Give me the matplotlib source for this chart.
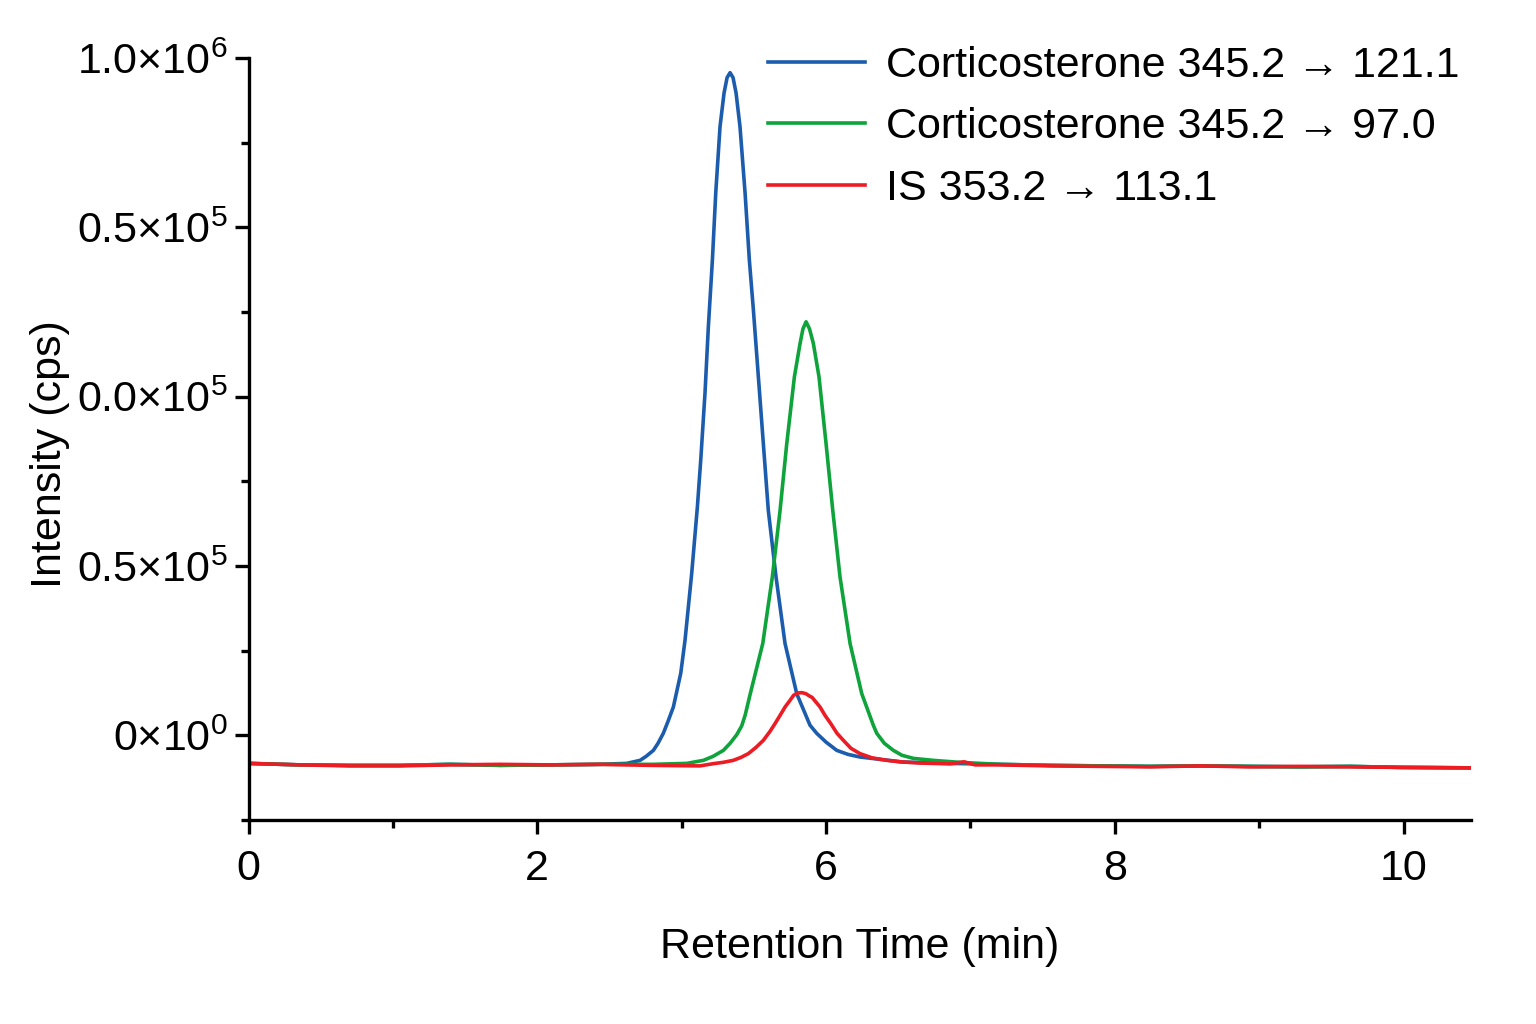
import matplotlib
matplotlib.use("Agg")
import numpy as np
from matplotlib import pyplot as plt
from matplotlib.ticker import FixedLocator

font = "Liberation Sans"
plt.rcParams['font.family'] = [font, 'DejaVu Sans']
plt.rcParams['mathtext.fontset'] = 'custom'
plt.rcParams['mathtext.rm'] = font
plt.rcParams['mathtext.it'] = font

# retention time (min) and intensity in units of 1e6 cps
blue_t = [0.000, 0.446, 0.879, 1.312, 1.745, 2.177, 2.610, 3.043, 3.274, 3.390,
	3.442, 3.505, 3.545, 3.591, 3.632, 3.678, 3.742, 3.779, 3.837, 3.886,
	3.915, 3.952, 3.981, 4.016, 4.045, 4.082, 4.117, 4.143, 4.169, 4.195,
	4.221, 4.255, 4.299, 4.336, 4.371, 4.414, 4.457, 4.500, 4.567, 4.645,
	4.746, 4.861, 4.919, 5.000, 5.093, 5.190, 5.294, 5.667, 6.074,
	6.506, 6.939, 7.372, 7.805, 8.238, 8.671, 9.104, 9.537, 9.970, 10.584]
blue_i = [-0.0414, -0.0436, -0.0443, -0.0443, -0.0428, -0.0443, -0.0436, -0.0428, -0.0414, -0.0369,
	-0.0310, -0.0222, -0.0118, 0.0030, 0.0207, 0.0418, 0.0916, 0.1403, 0.2393, 0.3372,
	0.4062, 0.5052, 0.6031, 0.7016, 0.8006, 0.8985, 0.9483, 0.9709, 0.9783, 0.9709,
	0.9483, 0.8985, 0.8006, 0.7016, 0.6278, 0.5293, 0.4309, 0.3323, 0.2338, 0.1355,
	0.0616, 0.0150, 0.0030, -0.0100, -0.0222, -0.0281, -0.0320, -0.0394, -0.0414,
	-0.0428, -0.0443, -0.0451, -0.0458, -0.0451, -0.0458, -0.0465, -0.0458, -0.0473, -0.0480]

green_t = [0.000, 0.446, 0.879, 1.312, 1.745, 2.177, 2.610, 3.043, 3.500, 3.794,
	3.938, 4.022, 4.111, 4.169, 4.227, 4.270, 4.300, 4.342, 4.452, 4.535,
	4.602, 4.660, 4.726, 4.775, 4.800, 4.827, 4.857, 4.890, 4.939, 5.000,
	5.058, 5.121, 5.208, 5.309, 5.409, 5.439, 5.505, 5.583, 5.658, 5.756,
	5.926, 6.160, 6.506, 6.939, 7.372, 7.805, 8.238, 8.671, 9.104, 9.537,
	9.970, 10.584]
green_i = [-0.0414, -0.0436, -0.0443, -0.0443, -0.0428, -0.0443, -0.0436, -0.0428, -0.0428, -0.0414,
	-0.0369, -0.0310, -0.0222, -0.0118, 0.0010, 0.0140, 0.0300, 0.0600, 0.1355, 0.2338,
	0.3323, 0.4309, 0.5293, 0.5786, 0.6000, 0.6105, 0.6000, 0.5786, 0.5293, 0.4309,
	0.3323, 0.2338, 0.1355, 0.0616, 0.0150, 0.0030, -0.0118, -0.0222, -0.0295, -0.0340,
	-0.0369, -0.0399, -0.0428, -0.0443, -0.0451, -0.0458, -0.0451, -0.0458, -0.0465, -0.0458,
	-0.0473, -0.0480]

red_t = [0.000, 0.446, 0.879, 1.312, 1.745, 2.177, 2.610, 3.043, 3.476, 3.909,
	4.024, 4.108, 4.197, 4.264, 4.327, 4.394, 4.457, 4.515, 4.558, 4.602,
	4.645, 4.688, 4.719, 4.755, 4.790, 4.825, 4.861, 4.879, 4.948, 4.991,
	5.041, 5.095, 5.150, 5.216, 5.294, 5.398, 5.526, 5.641, 5.814, 6.074,
	6.195, 6.290, 6.506, 6.939, 7.372, 7.805, 8.238, 8.671, 9.104, 9.537,
	9.970, 10.584]
red_i = [-0.0414, -0.0436, -0.0451, -0.0451, -0.0436, -0.0428, -0.0436, -0.0428, -0.0443, -0.0451,
	-0.0418, -0.0399, -0.0369, -0.0325, -0.0270, -0.0177, -0.0074, 0.0059, 0.0173, 0.0295,
	0.0418, 0.0517, 0.0591, 0.0625, 0.0631, 0.0615, 0.0576, 0.0561, 0.0418, 0.0295,
	0.0173, 0.0030, -0.0074, -0.0192, -0.0270, -0.0332, -0.0369, -0.0391, -0.0409, -0.0421,
	-0.0391, -0.0436, -0.0436, -0.0451, -0.0458, -0.0465, -0.0451, -0.0465, -0.0458, -0.0465,
	-0.0473, -0.0480]

labels = ["Corticosterone 345.2 \u2192 121.1", "Corticosterone 345.2 \u2192 97.0", "IS 353.2 \u2192 113.1"]
colors = ["#1c5cad", "#0fa33b", "#ec1c24"]

xtick_pos = [0, 2.5, 5, 7.5, 10]
xtick_txt = ["0", "2", "6", "8", "10"]
ytick_pos = [0, 0.25e6, 0.5e6, 0.75e6, 1.0e6]
ytick_txt = [r"$\mathregular{0{\times}10^{0}}$", r"$\mathregular{0.5{\times}10^{5}}$",
	r"$\mathregular{0.0{\times}10^{5}}$", r"$\mathregular{0.5{\times}10^{5}}$",
	r"$\mathregular{1.0{\times}10^{6}}$"]

fig = plt.figure(figsize=(15.36, 10.24), dpi=100)
ax = fig.add_axes([0.1618, 0.1992, 0.9577 - 0.1618, 0.9434 - 0.1992])

for t, i, lab, c in zip([blue_t, green_t, red_t], [blue_i, green_i, red_i], labels, colors):
	ax.plot(t, np.array(i)*1e6, color=c, lw=2.6, label=lab, solid_joinstyle="round")

ax.set_xlim(0, 10.584)
ax.set_ylim(-0.125e6, 1.0e6)
for s in ["top", "right"]:
	ax.spines[s].set_visible(False)
for s in ["left", "bottom"]:
	ax.spines[s].set_linewidth(2.4)

ax.xaxis.set_major_locator(FixedLocator(xtick_pos))
ax.set_xticklabels(xtick_txt)
ax.xaxis.set_minor_locator(FixedLocator([1.25, 3.75, 6.25, 8.75]))
ax.yaxis.set_major_locator(FixedLocator(ytick_pos))
ax.set_yticklabels(ytick_txt)
ax.yaxis.set_minor_locator(FixedLocator([-0.125e6, 0.125e6, 0.375e6, 0.625e6, 0.875e6]))
ax.tick_params(which="major", length=10, width=2.4, labelsize=31)
ax.tick_params(which="minor", length=6, width=2.4)
ax.tick_params(axis="x", which="major", pad=11)
ax.tick_params(axis="y", which="major", pad=5)

ax.set_xlabel("Retention Time (min)", fontsize=31, labelpad=27)
ax.set_ylabel("Intensity (cps)", fontsize=31)
ax.yaxis.set_label_coords(-0.146, 0.48)

ax.legend(loc="upper left", bbox_to_anchor=(0.425, 1.016), frameon=False, fontsize=31,
	handlelength=2.25, handletextpad=0.5, labelspacing=0.5, borderaxespad=0, borderpad=0)

plt.savefig("out.png", dpi=100)
